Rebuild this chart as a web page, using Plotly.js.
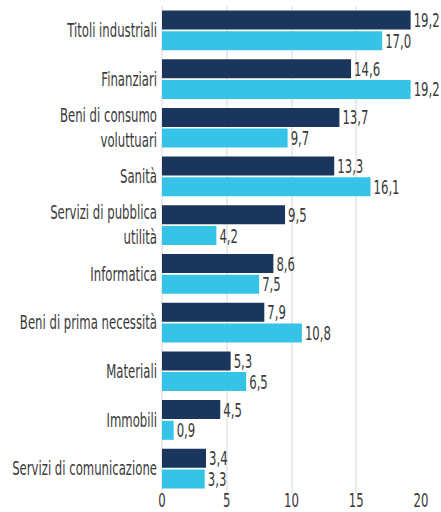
<!DOCTYPE html>
<html><head><meta charset="utf-8">
<script src="https://cdn.plot.ly/plotly-3.0.1.min.js"></script>
<style>html,body{margin:0;padding:0;background:#fff}</style>
</head><body>
<div id="chart" style="width:441px;height:512px"></div>
<script>
const categories = ["Titoli industriali","Finanziari","Beni di consumo<br>voluttuari","Sanità","Servizi di pubblica<br>utilità","Informatica","Beni di prima necessità","Materiali","Immobili","Servizi di comunicazione"];
const seriesDark = [19.2,14.6,13.7,13.3,9.5,8.6,7.9,5.3,4.5,3.4];
const seriesLight = [17.0,19.2,9.7,16.1,4.2,7.5,10.8,6.5,0.9,3.3];
const xTicks = [0,5,10,15,20];

// pick an installed font (prefer condensed ones)
const cv = document.createElement("canvas").getContext("2d");
function has(f){
  const s="Servizi di comunicazione 0123456789";
  for (const b of ["monospace","serif"]){
    cv.font="20px "+b; const w0=cv.measureText(s).width;
    cv.font="20px '"+f+"', "+b; if (Math.abs(cv.measureText(s).width-w0)>0.5) return true;
  }
  return false;
}
const cands=["Liberation Sans Narrow","DejaVu Sans Condensed","Roboto Condensed","Open Sans Condensed","Roboto","Liberation Sans"];
let fam="sans-serif"; for (const c of cands){ if(has(c)){fam=c;break;} }
const FS=19;
cv.font=FS+"px '"+fam+"'";
const targetW=145; // width of "Servizi di comunicazione" in the reference
let sx=targetW/cv.measureText("Servizi di comunicazione").width;
if (sx>0.97 && sx<1.03) sx=1;

const font = {family:"'"+fam+"', sans-serif", size:FS, color:"#3a3a3a"};
function tr(vals,color){
  return {type:"bar",orientation:"h",y:categories,x:vals,marker:{color:color},
    text:vals,texttemplate:"%{x:.1f}",textposition:"outside",cliponaxis:false,constraintext:"none",
    textfont:font,hoverinfo:"none"};
}
function squeeze(el, mode){
  if (sx===1) return;
  const bb=el.getBBox();
  const ax = mode==="end" ? bb.x+bb.width : mode==="start" ? bb.x : bb.x+bb.width/2;
  const t=el.getAttribute("transform")||"";
  el.setAttribute("transform", t+" translate("+ax+",0) scale("+sx+",1) translate("+(-ax)+",0)");
}
Plotly.newPlot("chart",[tr(seriesDark,"#1b365d"),tr(seriesLight,"#35c4e8")],{
  width:441,height:512,separators:",.",
  margin:{l:162,r:20,t:6,b:19},
  barmode:"group",bargap:0.15,bargroupgap:0.08,showlegend:false,
  font:font,paper_bgcolor:"#fff",plot_bgcolor:"#fff",
  xaxis:{range:[0,20],tickvals:xTicks,ticktext:xTicks.map(String),showgrid:true,gridcolor:"#ebebeb",gridwidth:2,
    zeroline:true,zerolinecolor:"#ebebeb",zerolinewidth:2,ticks:"",tickfont:font,fixedrange:true},
  yaxis:{autorange:"reversed",ticks:"",ticklen:0,tickfont:font,showgrid:false,zeroline:false,automargin:false,ticklabelstandoff:4}
},{staticPlot:true}).then(gd=>{
  gd.querySelectorAll(".ytick text").forEach(e=>squeeze(e,"end"));
  gd.querySelectorAll(".bartext").forEach(e=>squeeze(e,"start"));
  gd.querySelectorAll(".xtick text").forEach(e=>{
    squeeze(e,"middle");
    const r=e.getBoundingClientRect();
    const dy=511.5-r.bottom;
    e.setAttribute("transform","translate(0,"+dy+") "+(e.getAttribute("transform")||""));
  });
});
</script>
</body></html>
